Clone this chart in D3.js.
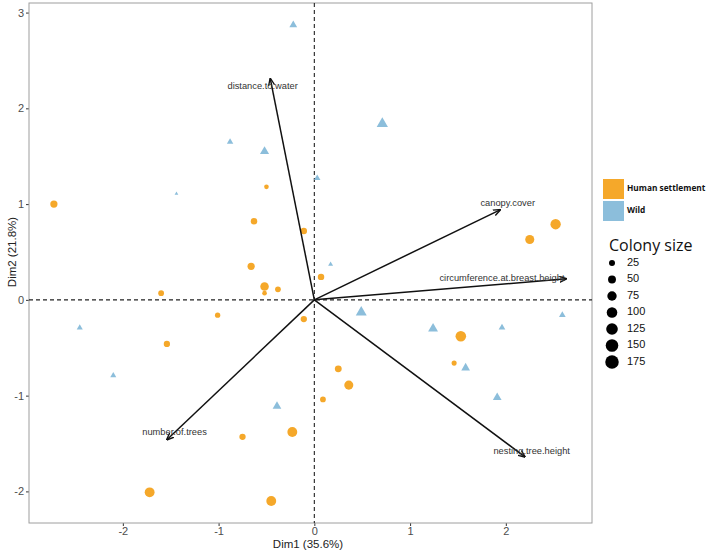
<!DOCTYPE html>
<html>
<head>
<meta charset="utf-8">
<script src="https://cdn.jsdelivr.net/npm/d3@7"></script>
<style>
  body { margin: 0; background: #fff; }
  svg { display: block; }
</style>
</head>
<body>
<script>
// PCA biplot: Dim1 vs Dim2, points by habitat, sized by colony size

// Human settlement colonies
var humanX    = [-2.72, -0.50, -0.63, -0.11, -0.66, 0.07, -0.52, -0.52, -0.38, -1.60, -1.01, -0.11, -1.54, -0.75, -0.23, -1.72, -0.45, 1.53, 1.46, 0.25, 0.36, 0.09, 2.52, 2.25];
var humanY    = [1.00, 1.18, 0.82, 0.72, 0.35, 0.24, 0.14, 0.07, 0.11, 0.07, -0.16, -0.20, -0.46, -1.43, -1.38, -2.01, -2.10, -0.38, -0.66, -0.72, -0.89, -1.04, 0.79, 0.63];
var humanSize = [40, 12, 30, 30, 40, 30, 60, 12, 22, 22, 18, 28, 28, 28, 85, 85, 85, 100, 16, 35, 70, 22, 95, 70];

// Wild colonies
var wildX    = [-0.22, -0.88, -0.52, 0.03, -1.44, 0.71, 0.17, -2.45, -2.10, -0.39, 0.49, 1.24, 1.96, 2.59, 1.58, 1.91];
var wildY    = [2.87, 1.65, 1.55, 1.27, 1.11, 1.84, 0.37, -0.29, -0.79, -1.11, -0.13, -0.30, -0.29, -0.16, -0.71, -1.02];
var wildSize = [30, 18, 45, 18, 3, 75, 8, 15, 15, 40, 70, 55, 20, 20, 40, 40];

// Variable loadings (arrows) and label anchors
var varNames  = ["distance.to.water", "canopy.cover", "circumference.at.breast.height", "nesting.tree.height", "number.of.trees"];
var varX      = [-0.46, 1.94, 2.63, 2.20, -1.54];
var varY      = [2.31, 0.94, 0.22, -1.64, -1.46];
var varLabelX = [-0.54, 2.02, 1.96, 2.27, -1.46];
var varLabelY = [2.23, 1.01, 0.22, -1.58, -1.39];

var xTicks = [-2, -1, 0, 1, 2];
var yTicks = [-2, -1, 0, 1, 2, 3];
var groupNames = ["Human settlement", "Wild"];
var sizeLegend = [25, 50, 75, 100, 125, 150, 175];

var W = 709, H = 553;
var orange = "#F5A82A", blue = "#8CBEDB";
var pLeft = 29, pRight = 592, pTop = 3, pBottom = 523;

var svg = d3.select("body").append("svg")
    .attr("width", W)
    .attr("height", H);

var x = d3.scaleLinear().domain([-2.98, 2.90]).range([pLeft, pRight]);
var y = d3.scaleLinear().domain([-2.33, 3.10]).range([pBottom, pTop]);
var r = d3.scaleSqrt().domain([1, 190]).range([1.2, 7]);
var fmt = function(d){ return String(d); };   // plain hyphen minus like R

//Axes
var xAxis = svg.append("g")
    .attr("transform", "translate(0," + pBottom + ")")
    .call(d3.axisBottom(x).tickValues(xTicks).tickSize(3).tickPadding(1.5).tickFormat(fmt));
var yAxis = svg.append("g")
    .attr("transform", "translate(" + pLeft + ",0)")
    .call(d3.axisLeft(y).tickValues(yTicks).tickSize(3).tickPadding(2).tickFormat(fmt));
[xAxis, yAxis].forEach(function(a){
    a.select(".domain").remove();
    a.selectAll(".tick line").attr("stroke", "#333");
    a.selectAll(".tick text")
        .attr("fill", "#4d4d4d")
        .style("font-family", "Liberation Sans, Arial, sans-serif")
        .style("font-size", "11px");
});

//Panel border
svg.append("rect")
    .attr("x", pLeft).attr("y", pTop)
    .attr("width", pRight - pLeft).attr("height", pBottom - pTop)
    .attr("fill", "none")
    .attr("stroke", "#9e9e9e")
    .attr("stroke-width", 1);

//Reference lines
svg.append("line")
    .attr("x1", x(0)).attr("x2", x(0))
    .attr("y1", pTop).attr("y2", pBottom)
    .attr("stroke", "#222").attr("stroke-width", 1.1)
    .attr("stroke-dasharray", "4,3");
svg.append("line")
    .attr("x1", pLeft).attr("x2", pRight)
    .attr("y1", y(0)).attr("y2", y(0))
    .attr("stroke", "#222").attr("stroke-width", 1.1)
    .attr("stroke-dasharray", "4,3");

//Points
var human = humanX.map(function(d, i){ return {x: d, y: humanY[i], s: humanSize[i]}; });
var wild = wildX.map(function(d, i){ return {x: d, y: wildY[i], s: wildSize[i]}; });

svg.append("g").selectAll("circle")
    .data(human)
    .enter().append("circle")
    .attr("cx", function(d){ return x(d.x); })
    .attr("cy", function(d){ return y(d.y); })
    .attr("r", function(d){ return r(d.s); })
    .attr("fill", orange);

svg.append("g").selectAll("path")
    .data(wild)
    .enter().append("path")
    .attr("transform", function(d){ return "translate(" + x(d.x) + "," + y(d.y) + ")"; })
    .attr("d", function(d){
        var rr = r(d.s);
        return d3.symbol().type(d3.symbolTriangle).size(Math.PI * rr * rr * 0.8)();
    })
    .attr("fill", blue);

//Arrows
var defs = svg.append("defs");
defs.append("marker")
    .attr("id", "arrowhead")
    .attr("viewBox", "0 0 10 10")
    .attr("refX", 9).attr("refY", 5)
    .attr("markerWidth", 5).attr("markerHeight", 5)
    .attr("orient", "auto")
    .append("path")
    .attr("d", "M0,1 L10,5 L0,9")
    .attr("fill", "none")
    .attr("stroke", "#111")
    .attr("stroke-width", 1.8);

var vars = varNames.map(function(n, i){
    return {name: n, x: varX[i], y: varY[i], lx: varLabelX[i], ly: varLabelY[i]};
});

svg.append("g").selectAll("line")
    .data(vars)
    .enter().append("line")
    .attr("x1", x(0)).attr("y1", y(0))
    .attr("x2", function(d){ return x(d.x); })
    .attr("y2", function(d){ return y(d.y); })
    .attr("stroke", "#111")
    .attr("stroke-width", 1.5)
    .attr("marker-end", "url(#arrowhead)");

svg.append("g").selectAll("text")
    .data(vars)
    .enter().append("text")
    .attr("x", function(d){ return x(d.lx); })
    .attr("y", function(d){ return y(d.ly); })
    .attr("text-anchor", "middle")
    .attr("dominant-baseline", "middle")
    .attr("fill", "#333")
    .style("font-family", "Liberation Sans, Arial, sans-serif")
    .style("font-size", "9.3px")
    .text(function(d){ return d.name; });

//Axis titles
svg.append("text")
    .attr("x", 308).attr("y", 548)
    .attr("text-anchor", "middle")
    .attr("fill", "#222")
    .style("font-family", "Liberation Sans, Arial, sans-serif")
    .style("font-size", "11.5px")
    .text("Dim1 (35.6%)");
svg.append("text")
    .attr("transform", "translate(16,252) rotate(-90)")
    .attr("text-anchor", "middle")
    .attr("fill", "#222")
    .style("font-family", "Liberation Sans, Arial, sans-serif")
    .style("font-size", "11.5px")
    .text("Dim2 (21.8%)");

//Legend: groups
var groupColors = [orange, blue];
var lg = svg.append("g");
groupNames.forEach(function(n, i){
    lg.append("rect")
        .attr("x", 603).attr("y", 179 + i * 22)
        .attr("width", 21).attr("height", 20)
        .attr("fill", groupColors[i]);
    lg.append("text")
        .attr("x", 627).attr("y", 189 + i * 22)
        .attr("dominant-baseline", "middle")
        .attr("fill", "#111")
        .style("font-family", "Open Sans, sans-serif")
        .style("font-weight", "bold")
        .style("font-size", "8.3px")
        .text(n);
});

//Legend: colony size
lg.append("text")
    .attr("x", 609).attr("y", 251)
    .attr("fill", "#111")
    .style("font-family", "Open Sans, sans-serif")
    .style("font-size", "16px")
    .text("Colony size");
sizeLegend.forEach(function(v, i){
    var cy = 263 + i * 16.5;
    lg.append("circle")
        .attr("cx", 612).attr("cy", cy)
        .attr("r", r(v))
        .attr("fill", "#000");
    lg.append("text")
        .attr("x", 627).attr("y", cy)
        .attr("dominant-baseline", "middle")
        .attr("fill", "#111")
        .style("font-family", "Liberation Sans, Arial, sans-serif")
        .style("font-size", "11px")
        .text(v);
});
</script>
</body>
</html>
